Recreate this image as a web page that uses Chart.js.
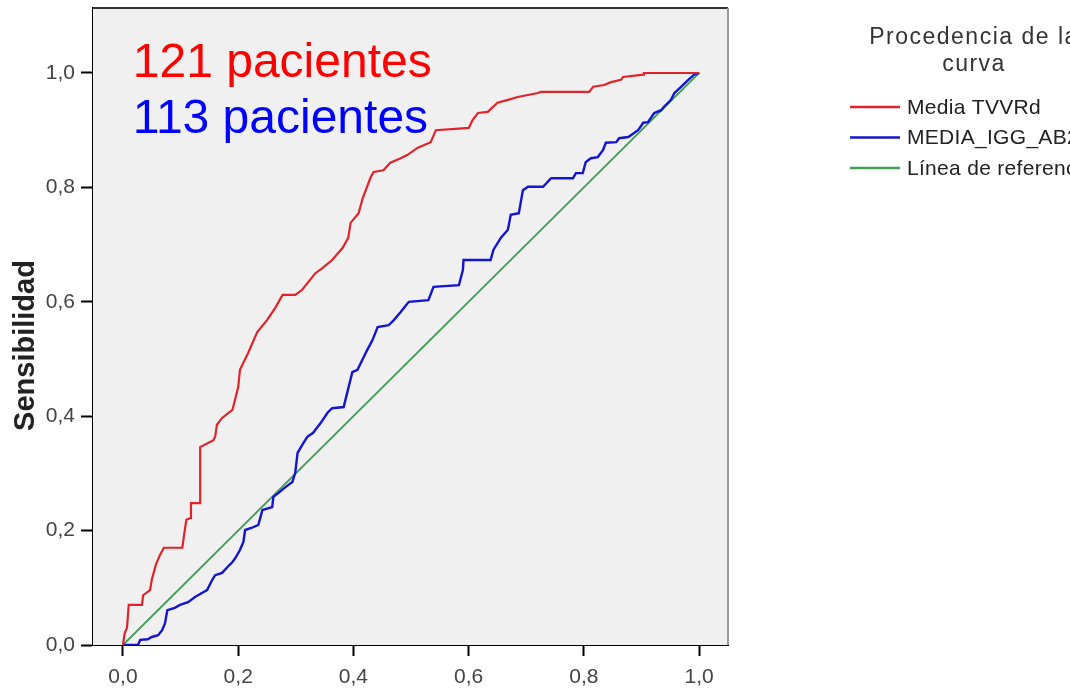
<!DOCTYPE html>
<html>
<head>
<meta charset="utf-8">
<script src="https://cdn.jsdelivr.net/npm/chart.js@4"></script>
<style>
  html, body { margin: 0; padding: 0; background: #fff; }
  #wrap { width: 1070px; height: 692px; }
</style>
</head>
<body>
<div id="wrap"><canvas id="roc-chart" width="1070" height="692"></canvas></div>
<script>
// ROC curves (1 - specificity vs sensitivity)
const redFpr = [0, 0.003, 0.007, 0.010, 0.033, 0.035, 0.047, 0.050, 0.057, 0.064, 0.071, 0.103, 0.106, 0.110, 0.117, 0.118, 0.134, 0.134, 0.157, 0.160, 0.163, 0.172, 0.190, 0.200, 0.203, 0.217, 0.233, 0.250, 0.264, 0.277, 0.299, 0.311, 0.334, 0.346, 0.363, 0.381, 0.391, 0.395, 0.409, 0.416, 0.430, 0.435, 0.452, 0.464, 0.482, 0.494, 0.511, 0.534, 0.543, 0.600, 0.607, 0.616, 0.633, 0.650, 0.668, 0.685, 0.720, 0.725, 0.809, 0.816, 0.835, 0.847, 0.864, 0.868, 0.903, 0.904, 1.0];
const redSens = [0, 0.021, 0.030, 0.070, 0.070, 0.087, 0.096, 0.114, 0.140, 0.157, 0.170, 0.170, 0.192, 0.219, 0.222, 0.248, 0.248, 0.346, 0.358, 0.364, 0.385, 0.397, 0.411, 0.451, 0.481, 0.510, 0.547, 0.568, 0.589, 0.612, 0.612, 0.621, 0.650, 0.659, 0.673, 0.694, 0.712, 0.738, 0.755, 0.781, 0.818, 0.827, 0.830, 0.843, 0.851, 0.857, 0.869, 0.879, 0.900, 0.904, 0.918, 0.930, 0.932, 0.948, 0.953, 0.958, 0.965, 0.967, 0.967, 0.976, 0.979, 0.984, 0.988, 0.993, 0.997, 1.0, 1.0];

const blueFpr = [0, 0.026, 0.030, 0.043, 0.050, 0.061, 0.068, 0.073, 0.077, 0.090, 0.099, 0.113, 0.125, 0.137, 0.146, 0.155, 0.160, 0.172, 0.181, 0.190, 0.195, 0.203, 0.209, 0.212, 0.224, 0.235, 0.242, 0.259, 0.261, 0.270, 0.282, 0.294, 0.299, 0.303, 0.313, 0.320, 0.330, 0.343, 0.355, 0.363, 0.383, 0.398, 0.407, 0.424, 0.433, 0.442, 0.461, 0.470, 0.482, 0.496, 0.530, 0.539, 0.583, 0.590, 0.591, 0.638, 0.643, 0.656, 0.668, 0.673, 0.687, 0.694, 0.703, 0.729, 0.743, 0.781, 0.786, 0.798, 0.803, 0.812, 0.824, 0.833, 0.838, 0.856, 0.861, 0.877, 0.894, 0.903, 0.911, 0.922, 0.934, 0.939, 0.951, 0.957, 0.969, 0.981, 0.991, 1.0];
const blueSens = [0, 0, 0.009, 0.010, 0.014, 0.017, 0.026, 0.038, 0.061, 0.065, 0.070, 0.075, 0.084, 0.091, 0.096, 0.114, 0.122, 0.126, 0.136, 0.145, 0.152, 0.166, 0.180, 0.201, 0.205, 0.210, 0.236, 0.241, 0.259, 0.266, 0.276, 0.285, 0.301, 0.336, 0.353, 0.364, 0.371, 0.388, 0.406, 0.414, 0.416, 0.477, 0.481, 0.516, 0.533, 0.556, 0.559, 0.568, 0.582, 0.600, 0.603, 0.626, 0.629, 0.656, 0.673, 0.673, 0.691, 0.712, 0.726, 0.752, 0.755, 0.795, 0.801, 0.801, 0.816, 0.816, 0.825, 0.825, 0.844, 0.851, 0.853, 0.865, 0.878, 0.879, 0.886, 0.888, 0.900, 0.913, 0.914, 0.930, 0.935, 0.941, 0.953, 0.965, 0.976, 0.988, 0.997, 1.0];

const refLine = [0, 1];

const seriesNames = ['Media TVVRd', 'MEDIA_IGG_AB2', 'Línea de referencia'];
const seriesColors = ['#e2232b', '#1414d2', '#3f9d55'];
const legendTitle = ['Procedencia de la', 'curva'];
const yTitle = 'Sensibilidad';

const xTicks = [0, 0.2, 0.4, 0.6, 0.8, 1.0];
const yTicks = [0, 0.2, 0.4, 0.6, 0.8, 1.0];

const notes = [
    { text: '121 pacientes', color: '#ff0000', x: 0.017, y: 0.993 },
    { text: '113 pacientes', color: '#0000ff', x: 0.017, y: 0.895 }
];

const FONT = '"Liberation Sans", Arial, sans-serif';

const toPoints = (xs, ys) => xs.map((x, i) => ({ x: x, y: ys[i] }));
const fmt = v => v.toFixed(1).replace('.', ',');

// gray plot background + top/right frame
const plotFrame = {
    id: 'plotFrame',
    beforeDatasetsDraw(chart) {
        const { ctx, chartArea: a } = chart;
        ctx.save();
        ctx.fillStyle = '#f0f0f0';
        ctx.fillRect(a.left, a.top, a.right - a.left, a.bottom - a.top);
        ctx.restore();
    },
    afterDraw(chart) {
        const { ctx, chartArea: a } = chart;
        ctx.save();
        ctx.lineWidth = 2;
        ctx.strokeStyle = '#333';
        ctx.beginPath();
        ctx.moveTo(a.left, a.top);
        ctx.lineTo(a.right, a.top);
        ctx.stroke();
        ctx.strokeStyle = '#9a9a9a';
        ctx.beginPath();
        ctx.moveTo(a.right, a.top);
        ctx.lineTo(a.right, a.bottom);
        ctx.stroke();
        ctx.restore();
    }
};

// "121 pacientes" / "113 pacientes" placed in data coordinates
const noteText = {
    id: 'noteText',
    afterDatasetsDraw(chart) {
        const { ctx, scales } = chart;
        ctx.save();
        ctx.font = '48px ' + FONT;
        ctx.textBaseline = 'alphabetic';
        ctx.textAlign = 'left';
        notes.forEach(n => {
            ctx.fillStyle = n.color;
            ctx.fillText(n.text, scales.x.getPixelForValue(n.x), scales.y.getPixelForValue(n.y));
        });
        ctx.restore();
    }
};

// y title sits a bit below the axis middle, as in SPSS output
const yTitleText = {
    id: 'yTitleText',
    afterDraw(chart) {
        const { ctx, chartArea: a } = chart;
        ctx.save();
        ctx.translate(26, (a.top + a.bottom) / 2 + 19);
        ctx.rotate(-Math.PI / 2);
        ctx.font = 'bold 29px ' + FONT;
        ctx.fillStyle = '#222';
        ctx.textAlign = 'center';
        ctx.textBaseline = 'middle';
        ctx.fillText(yTitle, 0, 0);
        ctx.restore();
    }
};

// SPSS-like legend at the right
const sideLegend = {
    id: 'sideLegend',
    afterDraw(chart) {
        const ctx = chart.ctx;
        ctx.save();
        ctx.fillStyle = '#333';
        ctx.font = '23px ' + FONT;
        ctx.letterSpacing = '1.5px';
        ctx.textAlign = 'center';
        ctx.textBaseline = 'middle';
        ctx.fillText(legendTitle[0], 974, 38);
        ctx.fillText(legendTitle[1], 974, 65);
        ctx.textAlign = 'left';
        ctx.font = '21px ' + FONT;
        ctx.letterSpacing = '0.3px';
        seriesNames.forEach((name, i) => {
            const y = 107 + i * 30.5;
            ctx.strokeStyle = seriesColors[i];
            ctx.lineWidth = 2.5;
            ctx.beginPath();
            ctx.moveTo(850, y);
            ctx.lineTo(900, y);
            ctx.stroke();
            ctx.fillStyle = '#222';
            ctx.fillText(name, 907, y + 1);
        });
        ctx.restore();
    }
};

const rocCanvas = document.getElementById('roc-chart');

let rocChart = new Chart(rocCanvas, {
    type: 'scatter',
    data: {
        datasets: [
            {
                label: seriesNames[0],
                data: toPoints(redFpr, redSens),
                borderColor: seriesColors[0],
                borderWidth: 2.2,
                showLine: true,
                pointRadius: 0,
                tension: 0
            },
            {
                label: seriesNames[1],
                data: toPoints(blueFpr, blueSens),
                borderColor: seriesColors[1],
                borderWidth: 2.4,
                showLine: true,
                pointRadius: 0,
                tension: 0
            },
            {
                label: seriesNames[2],
                data: toPoints(refLine, refLine),
                borderColor: seriesColors[2],
                borderWidth: 1.8,
                showLine: true,
                pointRadius: 0
            }
        ]
    },
    options: {
        responsive: false,
        animation: false,
        layout: { padding: { left: 0, right: 342, top: 8, bottom: 0 } },
        plugins: {
            legend: { display: false },
            tooltip: { enabled: false }
        },
        scales: {
            x: {
                type: 'linear',
                min: -0.052,
                max: 1.05,
                afterBuildTicks: s => { s.ticks = xTicks.map(v => ({ value: v })); },
                afterFit: s => { s.height = 47; s.paddingLeft = 0; s.paddingRight = 0; },
                border: { color: '#000', width: 2 },
                grid: { drawOnChartArea: false, drawTicks: true, tickLength: 11, tickColor: '#000', tickWidth: 2 },
                ticks: {
                    callback: v => fmt(v),
                    color: '#444',
                    padding: 9,
                    maxRotation: 0,
                    font: { family: FONT, size: 21 }
                }
            },
            y: {
                type: 'linear',
                min: 0,
                max: 1.1136,
                afterBuildTicks: s => { s.ticks = yTicks.map(v => ({ value: v })); },
                afterFit: s => { s.width = 93; s.paddingTop = 0; s.paddingBottom = 0; },
                border: { color: '#000', width: 2 },
                grid: { drawOnChartArea: false, drawTicks: true, tickLength: 12, tickColor: '#000', tickWidth: 2 },
                ticks: {
                    callback: v => fmt(v),
                    color: '#444',
                    padding: 6,
                    font: { family: FONT, size: 21 }
                }
            }
        }
    },
    plugins: [plotFrame, noteText, yTitleText, sideLegend]
});
</script>
</body>
</html>
